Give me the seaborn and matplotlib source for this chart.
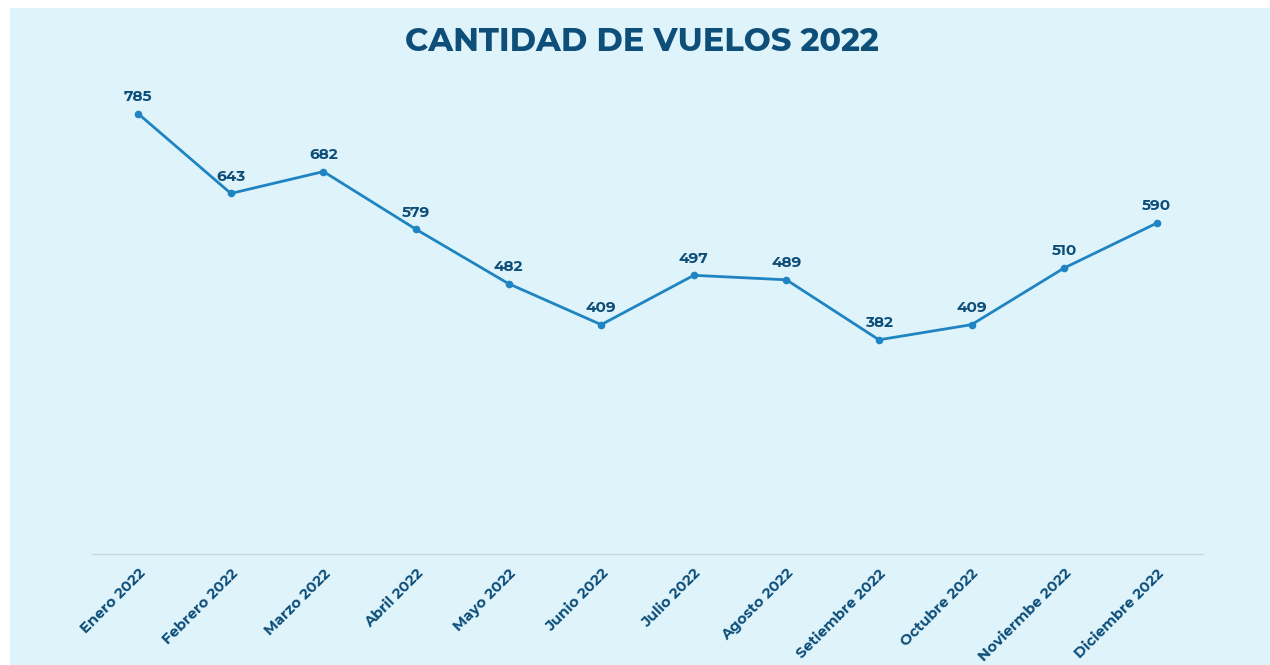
import os
import matplotlib
matplotlib.use("Agg")
import matplotlib.pyplot as plt
import matplotlib.transforms as mtransforms
import seaborn as sns
import pandas as pd
from matplotlib.patches import Rectangle
from matplotlib import font_manager as fm
from matplotlib.font_manager import FontProperties

months = ["Enero 2022", "Febrero 2022", "Marzo 2022", "Abril 2022", "Mayo 2022",
          "Junio 2022", "Julio 2022", "Agosto 2022", "Setiembre 2022",
          "Octubre 2022", "Noviermbe 2022", "Diciembre 2022"]
vuelos = [785, 643, 682, 579, 482, 409, 497, 489, 382, 409, 510, 590]
title = "CANTIDAD DE VUELOS 2022"

sns.set_theme(style="white")
plt.rcParams['font.family'] = ['Open Sans', 'DejaVu Sans']


def bold_font(weight=700):
    try:
        from fontTools.ttLib import TTFont
        from fontTools.varLib import instancer
        src = [f.fname for f in fm.fontManager.ttflist
               if os.path.basename(f.fname) == "Montserrat[wght].ttf"][0]
        out = os.path.abspath(f"Montserrat-W{weight}.ttf")
        vf = TTFont(src)
        inst = instancer.instantiateVariableFont(vf, {"wght": weight})
        inst.save(out)
        return FontProperties(fname=out)
    except Exception:
        return FontProperties(family="Open Sans", weight="bold")


fp = bold_font(700)
fp_title = bold_font(750)

bg = "#dff3fb"
dark = "#0e4f7a"
line_c = "#1f84c2"

fig = plt.figure(figsize=(12.7, 6.65), dpi=100)
fig.patch.set_facecolor("white")
fig.patches.append(Rectangle((10 / 1270, 0), 1 - 10 / 1270, 1 - 8 / 665,
                             transform=fig.transFigure, facecolor=bg,
                             edgecolor="none", zorder=-10))

ax = fig.add_axes([92 / 1270, 0.1669, 1111 / 1270, 0.6746])
ax.set_facecolor("none")

df = pd.DataFrame({"mes": months, "vuelos": vuelos})
x = list(range(len(months)))
sns.lineplot(x=x, y=vuelos, ax=ax, color=line_c, linewidth=2.0,
             marker="o", markersize=5.5, markeredgewidth=0)

for xi, v in zip(x, vuelos):
    ax.annotate(str(v), (xi, v), xytext=(0, 7), textcoords="offset points",
                ha="center", va="bottom", fontproperties=fp, fontsize=11,
                color=dark)

ax.set_xlim(-0.5, len(months) - 0.5)
ax.set_ylim(0, 800)
ax.set_xticks(x)
ax.set_xticklabels(months)
shift = mtransforms.ScaledTranslation(-4 / 100, 0, fig.dpi_scale_trans)
for lab in ax.get_xticklabels():
    lab.set_fontproperties(fp)
    lab.set_fontsize(10.5)
    lab.set_color(dark)
    lab.set_rotation(45)
    lab.set_ha("right")
    lab.set_rotation_mode("anchor")
    lab.set_transform(lab.get_transform() + shift)
ax.tick_params(axis="x", length=0, pad=9)
ax.set_yticks([])
ax.set_xlabel("")
ax.set_ylabel("")
for s in ["top", "right", "left"]:
    ax.spines[s].set_visible(False)
ax.spines["bottom"].set_color("#c9d6dc")
ax.spines["bottom"].set_linewidth(1.0)

fig.text(642 / 1270, 1 - 42 / 665, title, ha="center", va="center",
         fontproperties=fp_title, fontsize=23, color=dark)

fig.savefig("out.png", dpi=100)
